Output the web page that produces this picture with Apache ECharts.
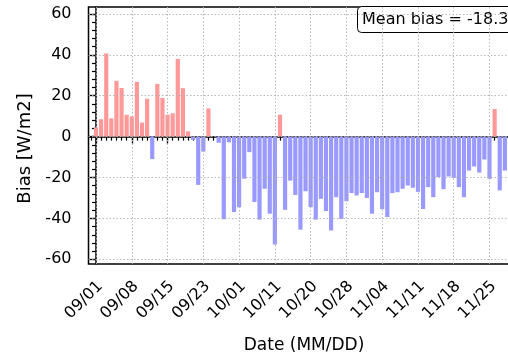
<!DOCTYPE html>
<html>
<head>
<meta charset="utf-8">
<script src="https://cdn.jsdelivr.net/npm/echarts@6/dist/echarts.min.js"></script>
<style>
html,body{margin:0;padding:0;overflow:hidden;background:#fff;width:508px;height:354px;}
#main{width:508px;height:354px;overflow:hidden;}
</style>
</head>
<body>
<div id="main"></div>
<script>
// Daily bias values (W/m2), one per sample, in order
const biasValues = [
  4.5, 8.5, 40.7, 8.9, 27.3, 23.8, 10.7, 9.9, 26.8, 6.9,
  18.5, -11.0, 25.8, 18.9, 10.7, 11.4, 38.0, 23.7, 2.6, -1.6,
  -23.6, -7.3, 13.8, 0, -3.0, -40.4, -2.8, -36.9, -34.6, -20.6,
  -7.6, -32.0, -40.6, -25.5, -37.7, -52.8, 10.7, -35.8, -21.5, -28.5,
  -45.5, -26.7, -34.5, -40.6, -30.4, -36.4, -45.9, -29.6, -40.3, -31.6,
  -27.6, -28.8, -27.6, -30.0, -37.7, -27.2, -35.5, -39.3, -27.6, -27.2,
  -25.5, -23.9, -25.0, -27.0, -35.4, -24.7, -29.6, -19.8, -25.7, -19.5,
  -20.2, -24.7, -29.6, -16.6, -14.6, -17.6, -11.2, -20.6, 13.5, -26.3,
  -16.6
];
// Date tick labels, one every 7 samples
const tickLabels = ['09/01','09/08','09/15','09/23','10/01','10/11','10/20','10/28','11/04','11/11','11/18','11/25'];
const yTickValues = [-60, -40, -20, 0, 20, 40, 60];
const meanBiasText = 'Mean bias = -18.3';

const majorX = tickLabels.map((_, i) => i * 7);
const minorX = [];
for (let i = -1; i <= 82; i++) minorX.push(i);
const minorY = [];
for (let v = -60; v <= 60; v += 4) minorY.push(v);

const FONT = 'DejaVu Sans';
const XMIN = -1.47, XMAX = 82.87, YMIN = -62.3, YMAX = 63.4;

const chart = echarts.init(document.getElementById('main'), null, {renderer: 'canvas'});
const gridLine = {color: '#b0b0b0', type: [1.5, 2], width: 0.9};

chart.setOption({
  animation: false,
  backgroundColor: '#fff',
  grid: {left: 88.5, top: 7, width: 431, height: 257, outerBoundsMode: 'none', containLabel: false,
    show: true, borderColor: '#000', borderWidth: 1.5, backgroundColor: 'transparent'},
  xAxis: [{
    type: 'value', min: XMIN, max: XMAX, position: 'bottom',
    name: 'Date (MM/DD)', nameLocation: 'middle', nameGap: 73,
    nameTextStyle: {fontFamily: FONT, fontSize: 17, color: '#000'},
    axisLine: {show: true, lineStyle: {color: '#000', width: 1.5}},
    axisTick: {show: true, customValues: majorX, length: 7, lineStyle: {color: '#000', width: 1.3}},
    axisLabel: {show: true, customValues: majorX, rotate: 45, margin: 24, padding: [0, -6, 0, 0],
      fontFamily: FONT, fontSize: 16, color: '#000',
      formatter: v => tickLabels[Math.round(v / 7)]},
    splitLine: {show: false}
  }, {
    type: 'value', min: XMIN, max: XMAX, position: 'bottom',
    axisLine: {show: false},
    axisTick: {show: true, customValues: minorX, length: 4, lineStyle: {color: '#000', width: 1.2}},
    axisLabel: {show: false},
    splitLine: {show: false}
  }],
  yAxis: [{
    type: 'value', min: YMIN, max: YMAX, position: 'left',
    name: 'Bias [W/m2]', nameLocation: 'middle', nameGap: 52, nameRotate: 90,
    nameTextStyle: {fontFamily: FONT, fontSize: 18, color: '#000', padding: [0, 26, 0, 0]},
    axisLine: {show: true, lineStyle: {color: '#000', width: 1.5}},
    axisTick: {show: true, customValues: yTickValues, length: 7, lineStyle: {color: '#000', width: 1.3}},
    axisLabel: {show: true, customValues: yTickValues, margin: 17, fontFamily: FONT, fontSize: 16, color: '#000'},
    splitLine: {show: false}
  }, {
    type: 'value', min: YMIN, max: YMAX, position: 'left', offset: 0,
    axisLine: {show: false},
    axisTick: {show: true, customValues: minorY, length: 4, lineStyle: {color: '#000', width: 1.2}},
    axisLabel: {show: false},
    splitLine: {show: false}
  }],
  series: [{
    type: 'bar',
    xAxisIndex: 0, yAxisIndex: 0,
    barWidth: 4.2,
    data: biasValues.map((v, i) => [i, v]),
    itemStyle: {color: p => (p.value[1] >= 0 ? '#ff9999' : '#9999ff')},
    markLine: {
      silent: true, symbol: 'none', label: {show: false},
      lineStyle: gridLine,
      data: majorX.map(x => ({xAxis: x})).concat(yTickValues.map(y => ({yAxis: y})))
    }
  }],
  graphic: [{
    type: 'group', left: 357, top: 6, z: 100,
    children: [{
      type: 'rect', shape: {x: 0, y: 0, width: 160, height: 26, r: 4},
      style: {fill: '#fff', stroke: '#000', lineWidth: 1}
    }, {
      type: 'text', x: 4.5, y: 13,
      style: {text: meanBiasText, fontFamily: FONT, fontSize: 16, fill: '#000', verticalAlign: 'middle', align: 'left'}
    }]
  }]
});
</script>
</body>
</html>
